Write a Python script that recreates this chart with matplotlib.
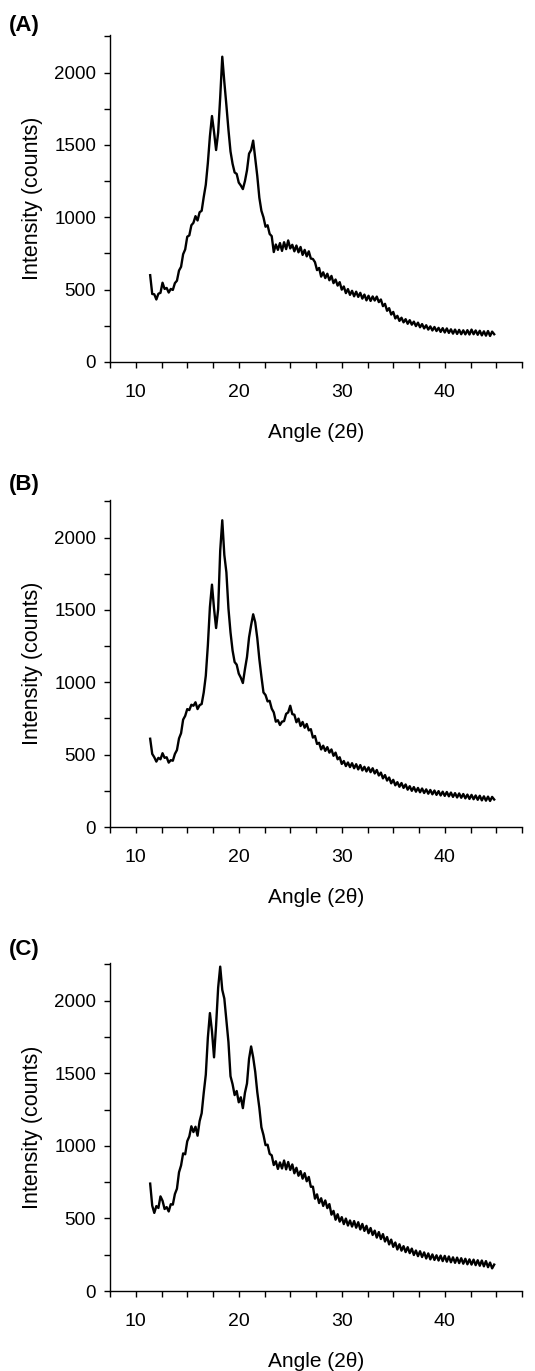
from matplotlib import pyplot as plt
from matplotlib import rcParams
from matplotlib.ticker import MultipleLocator
import numpy as np

rcParams["font.family"] = ["Liberation Sans", "DejaVu Sans"]

# scan grid: 11.4 .. 44.8 deg, 0.2 deg step
angle = np.round(np.arange(11.4, 44.81, 0.2), 2)

counts_A = [
    600, 470, 468, 432, 472, 478, 548, 505, 512, 480,
    505, 498, 545, 562, 632, 658, 745, 778, 866, 875,
    945, 962, 1008, 978, 1035, 1045, 1140, 1225, 1375, 1560,
    1700, 1590, 1465, 1585, 1830, 2110, 1935, 1775, 1605, 1455,
    1370, 1310, 1300, 1240, 1220, 1195, 1250, 1325, 1440, 1465,
    1530, 1405, 1285, 1135, 1045, 1000, 935, 945, 885, 870,
    760, 812, 775, 822, 768, 828, 780, 840, 785, 810,
    765, 805, 758, 795, 740, 775, 730, 765, 715, 712,
    690, 635, 650, 590, 620, 580, 610, 565, 595, 545,
    570, 528, 552, 500, 522, 476, 504, 464, 492, 454,
    486, 450, 478, 438, 466, 426, 458, 422, 453, 425,
    452, 414, 432, 386, 402, 354, 372, 328, 346, 301,
    319, 284, 306, 274, 296, 264, 289, 258, 279, 248,
    272, 240, 262, 232, 254, 224, 246, 218, 242, 214,
    236, 208, 234, 204, 232, 201, 226, 196, 224, 194,
    222, 192, 219, 191, 220, 190, 224, 192, 218, 188,
    216, 184, 212, 182, 214, 180, 210, 192,
]

counts_B = [
    610, 505, 482, 452, 478, 468, 510, 478, 482, 445,
    462, 458, 505, 532, 612, 648, 742, 768, 815, 808,
    845, 838, 862, 815, 842, 850, 930, 1045, 1255, 1520,
    1675, 1510, 1375, 1505, 1910, 2120, 1880, 1760, 1510, 1345,
    1220, 1140, 1122, 1060, 1032, 995, 1090, 1175, 1310, 1395,
    1470, 1415, 1305, 1160, 1040, 930, 912, 868, 872, 818,
    792, 728, 738, 705, 728, 732, 782, 792, 838, 780,
    776, 724, 749, 698, 726, 686, 712, 668, 676, 618,
    629, 574, 582, 536, 562, 526, 552, 514, 536, 492,
    514, 468, 482, 436, 456, 421, 446, 414, 441, 406,
    434, 398, 428, 391, 416, 384, 412, 379, 406, 370,
    394, 356, 376, 336, 359, 321, 342, 302, 326, 288,
    310, 278, 304, 270, 294, 258, 282, 250, 276, 244,
    270, 240, 266, 235, 260, 230, 256, 226, 252, 222,
    248, 218, 244, 215, 242, 212, 238, 208, 234, 204,
    232, 202, 228, 198, 224, 194, 222, 192, 218, 188,
    216, 184, 212, 182, 210, 180, 208, 190,
]

counts_C = [
    740, 588, 538, 585, 572, 652, 622, 565, 578, 548,
    598, 595, 668, 705, 818, 865, 948, 942, 1032, 1065,
    1135, 1095, 1132, 1070, 1170, 1225, 1365, 1490, 1745, 1915,
    1790, 1610, 1830, 2090, 2235, 2075, 2015, 1865, 1715, 1480,
    1425, 1350, 1378, 1300, 1335, 1260, 1365, 1430, 1600, 1685,
    1610, 1510, 1370, 1262, 1128, 1075, 1005, 1008, 945, 935,
    868, 894, 841, 886, 844, 899, 838, 889, 834, 872,
    811, 849, 794, 826, 774, 812, 756, 786, 718, 719,
    636, 666, 606, 639, 586, 624, 571, 599, 526, 552,
    491, 529, 478, 509, 461, 499, 451, 486, 444, 482,
    436, 474, 424, 462, 414, 449, 398, 434, 386, 416,
    368, 406, 358, 392, 341, 372, 321, 354, 304, 334,
    286, 322, 278, 309, 268, 302, 261, 292, 248, 279,
    240, 274, 234, 266, 224, 259, 218, 252, 214, 246,
    210, 244, 206, 242, 202, 238, 198, 232, 194, 230,
    192, 226, 188, 222, 184, 218, 182, 216, 178, 212,
    174, 210, 170, 206, 164, 196, 156, 182,
]

panels = ['(A)', '(B)', '(C)']
series = [counts_A, counts_B, counts_C]

W, H = 535, 1371
fig = plt.figure(figsize=(W / 100, H / 100), dpi=100)

# pixel positions (bottom of x axis, top of y axis, panel label centre)
ax_bottom_px = [362, 827, 1291]
ax_top_px = [35, 500, 963]
label_px = [25.5, 484, 950]
left_px, right_px = 110, 522

for name, y, bot, top, lab in zip(panels, series, ax_bottom_px, ax_top_px, label_px):
    ax = fig.add_axes([left_px / W, 1 - bot / H, (right_px - left_px) / W, (bot - top) / H])
    ax.plot(angle, y, color='black', linewidth=1.7)

    for s in ['top', 'right']:
        ax.spines[s].set_visible(False)
    for s in ['bottom', 'left']:
        ax.spines[s].set_linewidth(1.0)

    ax.set_xlim(7.5, 47.5)
    ax.set_ylim(0, 2260)
    ax.xaxis.set_major_locator(MultipleLocator(10))
    ax.xaxis.set_minor_locator(MultipleLocator(2.5))
    ax.yaxis.set_major_locator(MultipleLocator(500))
    ax.yaxis.set_minor_locator(MultipleLocator(250))
    ax.tick_params(axis='x', which='both', length=4, width=1.0, pad=12, labelsize=14)
    ax.tick_params(axis='y', which='both', length=4, width=1.0, pad=6, labelsize=13.5)

    ax.set_xlabel('Angle (2θ)', fontsize=15, labelpad=16)
    ax.set_ylabel('Intensity (counts)', fontsize=15.5, labelpad=8)

    fig.text(9 / W, 1 - lab / H, name, fontsize=16, fontweight='bold', ha='left', va='center')

plt.savefig('out.png', dpi=100)
